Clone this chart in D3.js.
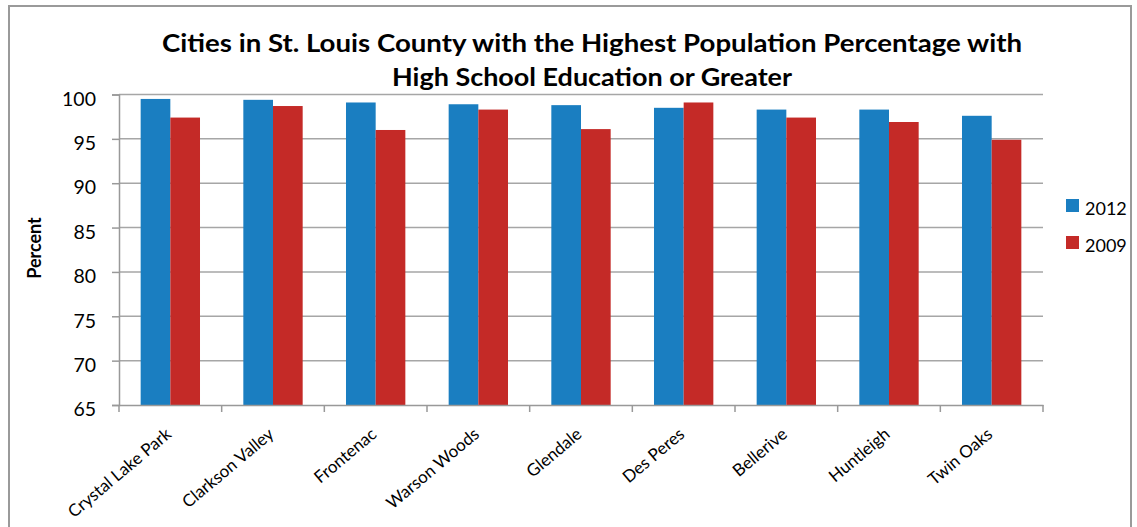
<!DOCTYPE html>
<html lang="en">
<head>
<meta charset="UTF-8">
<title>St. Louis County High School Education</title>
<script src="https://d3js.org/d3.v7.min.js"></script>
<style>
  body { margin: 0; background: #fff; }
  text { font-family: Lato, "Open Sans", sans-serif; fill: #000; }
</style>
</head>
<body>
<svg id="chart" width="1137" height="527"></svg>
<script>
// data
const cities = ["Crystal Lake Park", "Clarkson Valley", "Frontenac", "Warson Woods", "Glendale",
                "Des Peres", "Bellerive", "Huntleigh", "Twin Oaks"];
const years = ["2012", "2009"];
const values2012 = [99.5, 99.4, 99.1, 98.9, 98.8, 98.5, 98.3, 98.3, 97.6];
const values2009 = [97.4, 98.7, 96.0, 98.3, 96.1, 99.1, 97.4, 96.9, 94.9];
const yTicks = [65, 70, 75, 80, 85, 90, 95, 100];
const titleLines = ["Cities in St. Louis County with the Highest Population Percentage with",
                    "High School Education or Greater"];
const colors = ["#1a7ec1", "#c42a27"];

const svg = d3.select("#chart");

// outer chart border
svg.append("rect")
  .attr("x", 9).attr("y", 6).attr("width", 1122).attr("height", 540)
  .attr("fill", "none").attr("stroke", "#9a9a9a").attr("stroke-width", 2);

const plotLeft = 119, plotRight = 1043, plotTop = 94.5, plotBottom = 405;

const x = d3.scaleBand().domain(cities).range([plotLeft, plotRight]);
const x1 = d3.scaleBand().domain(years).range([0, x.bandwidth()]).paddingOuter(0.73);
const y = d3.scaleLinear().domain([65, 100]).range([plotBottom, plotTop]);

// gridlines
svg.append("g").selectAll("line").data(yTicks.slice(1)).join("line")
  .attr("x1", plotLeft).attr("x2", plotRight)
  .attr("y1", d => y(d)).attr("y2", d => y(d))
  .attr("stroke", "#a6a6a6").attr("stroke-width", 1.5);

// bars
const series = [values2012, values2009];
const groups = svg.append("g").selectAll("g").data(cities).join("g")
  .attr("transform", d => `translate(${x(d)},0)`);
groups.selectAll("rect")
  .data((c, i) => years.map((yr, k) => ({ yr, v: series[k][i], k })))
  .join("rect")
  .attr("x", d => x1(d.yr))
  .attr("width", x1.bandwidth())
  .attr("y", d => y(d.v))
  .attr("height", d => y(65) - y(d.v))
  .attr("fill", d => colors[d.k]);

// y axis
const yAxis = svg.append("g")
  .attr("transform", `translate(${plotLeft},0)`)
  .call(d3.axisLeft(y).tickValues(yTicks).tickSize(7).tickPadding(16));
yAxis.select(".domain").attr("stroke", "#999").attr("stroke-width", 1.5);
yAxis.selectAll(".tick line").attr("stroke", "#999").attr("stroke-width", 1.5);
yAxis.selectAll("text")
  .attr("dy", "0.55em")
  .style("font-size", "19.5px").style("font-family", "Lato, sans-serif").attr("fill", "#000");

// x axis
const xAxis = svg.append("g")
  .attr("transform", `translate(0,${plotBottom})`)
  .call(d3.axisBottom(x).tickSize(0).tickFormat(""));
xAxis.select(".domain").attr("stroke", "#999").attr("stroke-width", 1.5);
svg.append("g").selectAll("line").data(cities.concat(["end"])).join("line")
  .attr("x1", (d, i) => plotLeft + i * x.bandwidth())
  .attr("x2", (d, i) => plotLeft + i * x.bandwidth())
  .attr("y1", plotBottom).attr("y2", plotBottom + 7)
  .attr("stroke", "#999").attr("stroke-width", 1.5);

svg.append("g").selectAll("text").data(cities).join("text")
  .attr("transform", d => `translate(${x(d) + x.bandwidth() / 2 + 2},${plotBottom + 31}) rotate(-40)`)
  .attr("text-anchor", "end")
  .style("font-size", "17px")
  .text(d => d);

// y label
svg.append("text")
  .attr("transform", "translate(41,248) rotate(-90)")
  .attr("text-anchor", "middle")
  .style("font-size", "18px").style("font-weight", "bold")
  .text("Percent");

// title
const title = svg.append("text").attr("text-anchor", "middle")
  .style("font-size", "25px").style("font-weight", "bold");
title.append("tspan").attr("x", 592).attr("y", 52)
  .attr("textLength", 860).attr("lengthAdjust", "spacingAndGlyphs")
  .text(titleLines[0]);
title.append("tspan").attr("x", 592).attr("y", 86)
  .attr("textLength", 400).attr("lengthAdjust", "spacingAndGlyphs")
  .text(titleLines[1]);

// legend
const legend = svg.append("g").selectAll("g").data(years).join("g")
  .attr("transform", (d, i) => `translate(1066,${199 + i * 37})`);
legend.append("rect").attr("width", 13).attr("height", 13).attr("fill", (d, i) => colors[i]);
legend.append("text").attr("x", 19).attr("y", 16).style("font-size", "18px").text(d => d);
</script>
</body>
</html>
